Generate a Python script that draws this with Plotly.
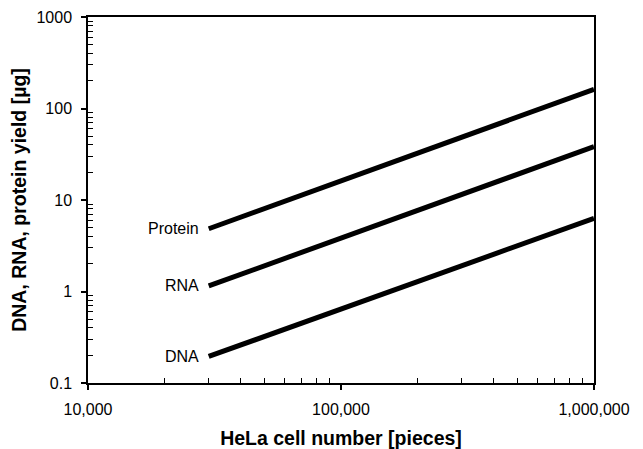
import numpy as np
import plotly.graph_objects as go

cells = [30000, 1000000]
protein = [4.85, 162]
rna = [1.15, 38.3]
dna = [0.195, 6.3]
series = [("Protein", protein), ("RNA", rna), ("DNA", dna)]

x_ticks = [10000, 100000, 1000000]
x_labels = ["10,000", "100,000", "1,000,000"]
y_ticks = [0.1, 1, 10, 100, 1000]
y_labels = ["0.1", "1", "10", "100", "1000"]

FONT = "Liberation Sans, Arial, sans-serif"

fig = go.Figure()
for name, vals in series:
    fig.add_trace(go.Scatter(x=cells, y=vals, mode="lines", name=name,
                             line=dict(color="black", width=5), showlegend=False,
                             cliponaxis=False))
    fig.add_annotation(x=np.log10(cells[0]), y=np.log10(vals[0]), xref="x", yref="y",
                       text=name, showarrow=False, xanchor="right", xshift=-8,
                       font=dict(family=FONT, size=16, color="black"))

x_minor = [d * 10 ** e for e in range(4, 6) for d in range(2, 10)]
y_minor = [d * 10.0 ** e for e in range(-1, 3) for d in range(2, 10)]

common = dict(showline=True, linecolor="black", linewidth=1.5, mirror=True,
              ticks="outside", ticklen=5, tickwidth=1.5, tickcolor="black",
              showgrid=False, zeroline=False, automargin=False,
              ticklabeloverflow="allow",
              tickfont=dict(family=FONT, size=16, color="black"))

fig.update_xaxes(type="log", range=[4, 6], tickmode="array", tickvals=x_ticks, ticktext=x_labels,
                 minor=dict(ticks="inside", ticklen=5, tickwidth=1.2, tickcolor="black",
                            tickmode="array", tickvals=x_minor, showgrid=False),
                 ticklabelstandoff=6,
                 title=dict(text="<b>HeLa cell number [pieces]</b>", standoff=14,
                            font=dict(family=FONT, size=19.5, color="black")),
                 **common)
fig.update_yaxes(type="log", range=[-1, 3], tickmode="array", tickvals=y_ticks, ticktext=y_labels,
                 minor=dict(ticks="inside", ticklen=5, tickwidth=1.2, tickcolor="black",
                            tickmode="array", tickvals=y_minor, showgrid=False),
                 ticklabelstandoff=6,
                 title=dict(text="<b>DNA, RNA, protein yield [µg]</b>", standoff=14,
                            font=dict(family=FONT, size=19.5, color="black")),
                 **common)

fig.update_layout(width=643, height=449, margin=dict(l=80, r=57, t=9, b=74),
                  plot_bgcolor="white", paper_bgcolor="white")

fig.write_html("out.html")
